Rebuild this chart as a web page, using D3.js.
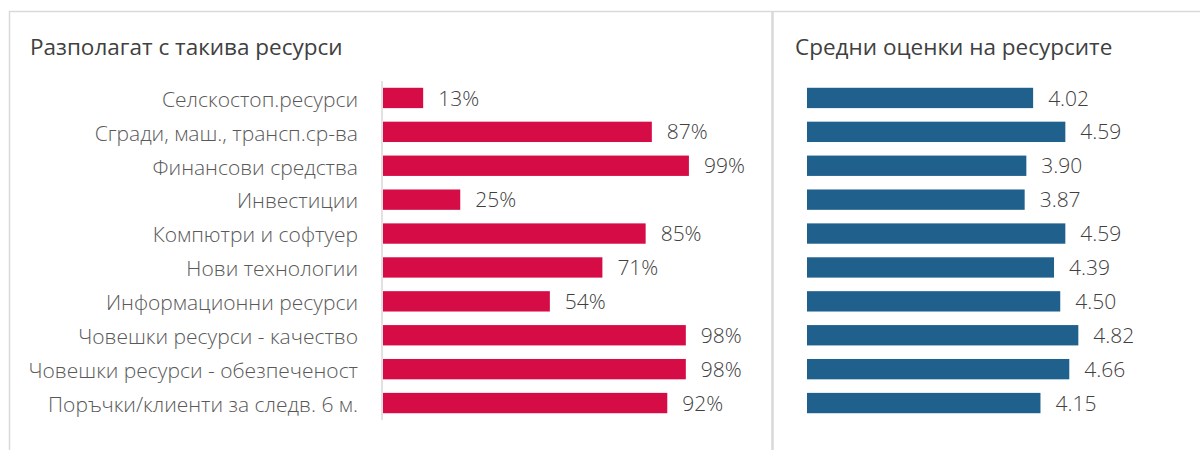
<!DOCTYPE html>
<html>
<head>
<meta charset="utf-8">
<script src="https://cdn.jsdelivr.net/npm/d3@7"></script>
<style>
  body { margin: 0; background: #fff; }
  svg { display: block; font-family: "Open Sans", "Lato", sans-serif; font-weight: 300; }
</style>
</head>
<body>
<svg id="chart" width="1200" height="450"></svg>
<script>
const categories = [
  "Селскостоп.ресурси",
  "Сгради, маш., трансп.ср-ва",
  "Финансови средства",
  "Инвестиции",
  "Компютри и софтуер",
  "Нови технологии",
  "Информационни ресурси",
  "Човешки ресурси - качество",
  "Човешки ресурси - обезпеченост",
  "Поръчки/клиенти за следв. 6 м."
];
const sharePct = [13, 87, 99, 25, 85, 71, 54, 98, 98, 92];
const avgScore = [4.02, 4.59, 3.90, 3.87, 4.59, 4.39, 4.50, 4.82, 4.66, 4.15];

const svg = d3.select("#chart");

// panel frames
svg.append("line").attr("x1", 9).attr("x2", 1200).attr("y1", 11.5).attr("y2", 11.5)
  .attr("stroke", "#d9d9d9").attr("stroke-width", 1.5);
svg.append("line").attr("x1", 9.5).attr("x2", 9.5).attr("y1", 11).attr("y2", 450)
  .attr("stroke", "#d9d9d9").attr("stroke-width", 1.5);
svg.append("line").attr("x1", 772.5).attr("x2", 772.5).attr("y1", 11).attr("y2", 450)
  .attr("stroke", "#d9d9d9").attr("stroke-width", 2.5);

// titles
svg.append("text").attr("x", 30).attr("y", 55).text("Разполагат с такива ресурси")
  .attr("font-size", 22.5).attr("font-weight", 400).attr("fill", "#404040");
svg.append("text").attr("x", 795).attr("y", 55).text("Средни оценки на ресурсите")
  .attr("font-size", 22.5).attr("font-weight", 400).attr("fill", "#404040");

const y = d3.scaleBand().domain(categories).range([81, 420]).paddingInner(0.4).paddingOuter(0.2);

// left chart
const xL = d3.scaleLinear().domain([0, 100]).range([383, 692]);

svg.append("g")
  .attr("transform", "translate(382,0)")
  .call(d3.axisLeft(y).tickSize(0).tickPadding(24))
  .call(g => g.select(".domain").attr("stroke", "#d9d9d9").attr("stroke-width", 1.5)
    .attr("d", "M0,81V420"))
  .call(g => g.selectAll("text").attr("font-size", 21).attr("fill", "#595959")
    .attr("dy", "0.42em")
    .attr("font-family", "'Open Sans', Lato, sans-serif"));

svg.append("g").selectAll("rect")
  .data(sharePct)
  .join("rect")
  .attr("x", xL(0))
  .attr("y", (d, i) => y(categories[i]))
  .attr("width", d => xL(d) - xL(0))
  .attr("height", y.bandwidth())
  .attr("fill", "#d60c46");

svg.append("g").selectAll("text")
  .data(sharePct)
  .join("text")
  .attr("x", d => xL(d) + 15)
  .attr("y", (d, i) => y(categories[i]) + y.bandwidth() / 2)
  .attr("dy", "0.36em")
  .attr("font-size", 21)
  .attr("fill", "#404040")
  .text(d => d + "%");

// right chart
const xR = d3.scaleLinear().domain([0, 5]).range([806, 1088.5]);

svg.append("g").selectAll("rect")
  .data(avgScore)
  .join("rect")
  .attr("x", xR.range()[0] + 1)
  .attr("y", (d, i) => y(categories[i]))
  .attr("width", d => xR(d) - xR(0) - 1)
  .attr("height", y.bandwidth())
  .attr("fill", "#1f608c");

svg.append("g").selectAll("text")
  .data(avgScore)
  .join("text")
  .attr("x", d => xR(d) + 15)
  .attr("y", (d, i) => y(categories[i]) + y.bandwidth() / 2)
  .attr("dy", "0.36em")
  .attr("font-size", 21)
  .attr("fill", "#404040")
  .text(d => d3.format(".2f")(d));
</script>
</body>
</html>
